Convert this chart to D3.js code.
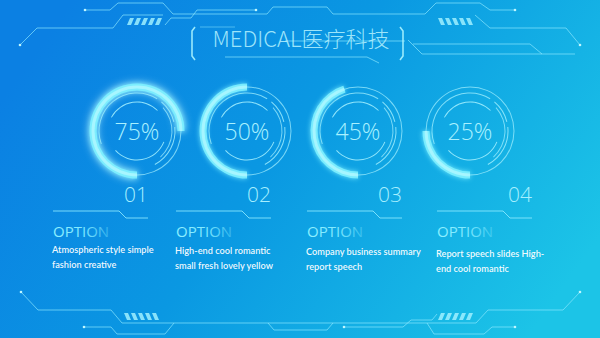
<!DOCTYPE html>
<html lang="en">
<head>
<meta charset="UTF-8">
<title>MEDICAL</title>
<script src="https://d3js.org/d3.v7.min.js"></script>
<style>
  html, body { margin: 0; padding: 0; background: #0c84e4; }
  svg { display: block; }
</style>
</head>
<body>
<div id="chart"></div>
<script>
  // data
  const categories = ["01", "02", "03", "04"];
  const percents = [75, 50, 45, 25];
  const headings = ["OPTION", "OPTION", "OPTION", "OPTION"];
  const descLines = [
    ["Atmospheric style simple", "fashion creative"],
    ["High-end cool romantic", "small fresh lovely yellow"],
    ["Company business summary", "report speech"],
    ["Report speech slides High-", "end cool romantic"]
  ];
  const title = "MEDICAL医疗科技";

  const width = 600, height = 338;

  const svg = d3.select("#chart").append("svg")
      .attr("width", width)
      .attr("height", height);

  const defs = svg.append("defs");

  const bg = defs.append("linearGradient").attr("id", "bg")
      .attr("x1", 0).attr("y1", 0.3).attr("x2", 1).attr("y2", 0.7);
  bg.append("stop").attr("offset", 0).attr("stop-color", "#0b80e3");
  bg.append("stop").attr("offset", 0.45).attr("stop-color", "#0a98e2");
  bg.append("stop").attr("offset", 1).attr("stop-color", "#1cc4e7");

  const optGrad = defs.append("linearGradient").attr("id", "optGrad")
      .attr("x1", 0).attr("x2", 1);
  optGrad.append("stop").attr("offset", 0).attr("stop-color", "#8ff0ff");
  optGrad.append("stop").attr("offset", 0.55).attr("stop-color", "#7ee8ff");
  optGrad.append("stop").attr("offset", 1).attr("stop-color", "#7ee8ff").attr("stop-opacity", 0.35);

  const glow = defs.append("filter").attr("id", "glow")
      .attr("x", "-50%").attr("y", "-50%").attr("width", "200%").attr("height", "200%");
  glow.append("feGaussianBlur").attr("stdDeviation", 2.5).attr("result", "b");
  const gm = glow.append("feMerge");
  gm.append("feMergeNode").attr("in", "b");
  gm.append("feMergeNode").attr("in", "SourceGraphic");

  const bigGlow = defs.append("filter").attr("id", "bigGlow")
      .attr("x", "-50%").attr("y", "-50%").attr("width", "200%").attr("height", "200%");
  bigGlow.append("feGaussianBlur").attr("stdDeviation", 5);

  svg.append("rect").attr("width", width).attr("height", height).attr("fill", "url(#bg)");

  // decorative circuit lines
  const lineCol = "#8ee9ff";
  const decor = [
    [[85,10],[110,10],[118,3],[163,3],[173,14],[267,14],[273,7],[327,7],[333,14],[425,14],[436,3],[480,3],[490,10],[515,10]],
    [[20,45],[37,28],[113,28],[123,15],[163,15]],
    [[165,25],[171,18],[191,18],[197,10],[256,10]],
    [[475,15],[490,28],[566,28],[580,45]],
    [[408,40],[422,54],[575,54]],
    [[413,44],[530,44],[542,54]],
    [[225,57],[367,57],[379,63]],
    [[285,41],[405,41]],
    [[21,292],[38,310],[111,310],[122,323],[476,323],[488,310],[563,310],[580,292]],
    [[84,327],[111,327],[117,334],[165,334],[174,323]],
    [[268,323],[274,330],[327,330],[333,323]],
    [[344,327],[403,327],[411,320],[432,320],[437,314]],
    [[427,323],[434,334],[484,334],[492,327],[515,327]]
  ];
  const lineGen = d3.line();
  const gDecor = svg.append("g");
  gDecor.selectAll("path").data(decor).join("path")
      .attr("d", lineGen)
      .attr("fill", "none")
      .attr("stroke", lineCol)
      .attr("stroke-opacity", 0.75)
      .attr("stroke-width", 0.9);
  // end dots
  const dots = [[85,10],[20,45],[256,10],[515,10],[580,45],[21,292],[84,327],[344,327],[515,327],[580,292]];
  gDecor.selectAll("circle").data(dots).join("circle")
      .attr("cx", d => d[0]).attr("cy", d => d[1]).attr("r", 1.3)
      .attr("fill", "#bff6ff");
  // highlight segments
  const highlights = [[[60,28],[100,28]],[[520,28],[560,28]],[[60,310],[100,310]],[[520,310],[560,310]]];
  gDecor.selectAll(".hl").data(highlights).join("path").attr("class", "hl")
      .attr("d", lineGen).attr("stroke", "#c8f8ff").attr("stroke-width", 1.4)
      .attr("stroke-opacity", 0.8).attr("filter", "url(#glow)");

  // hatch stripes
  function stripes(x0, y0, dir) {
    const g = gDecor.append("g");
    d3.range(5).forEach(i => {
      const x = x0 + i * 7;
      const pts = dir > 0
        ? [[x + 3, y0], [x + 7, y0], [x + 4, y0 + 7], [x, y0 + 7]]
        : [[x, y0], [x + 4, y0], [x + 7, y0 + 7], [x + 3, y0 + 7]];
      g.append("path").attr("d", lineGen(pts) + "Z").attr("fill", "#9ff0ff").attr("opacity", 0.85);
    });
  }
  stripes(127, 18, 1);
  stripes(438, 18, -1);
  stripes(124, 313, -1);
  stripes(438, 313, 1);

  // title frame brackets
  const bracket = [[[195,27],[192,31],[192,56],[195,60]], [[400,27],[403,31],[403,56],[400,60]]];
  gDecor.selectAll(".br").data(bracket).join("path").attr("class", "br")
      .attr("d", lineGen).attr("fill", "none").attr("stroke", "#a8f3ff").attr("stroke-width", 1.6)
      .attr("stroke-opacity", 0.9);
  svg.append("path").attr("d", lineGen([[200,27],[235,27]])).attr("stroke", lineCol).attr("stroke-opacity", 0.5);

  svg.append("text")
      .attr("x", 301).attr("y", 47)
      .attr("text-anchor", "middle")
      .attr("font-family", "'Noto Sans CJK SC', 'Open Sans', sans-serif")
      .attr("font-weight", 300)
      .attr("font-size", 22)
      .attr("fill", "#b8f4ff")
      .attr("fill-opacity", 0.85)
      .text(title);

  // layout scales
  const cx = d3.scaleOrdinal(categories, [137, 247, 358, 470]);
  const colLeft = d3.scaleOrdinal(categories, [53, 176, 307, 437]);
  const cy = 131;
  const angle = d3.scaleLinear().domain([0, 100]).range([Math.PI, 3 * Math.PI]);

  // thin decorative rings: [radius, startDeg, endDeg, opacity]
  const ringParts = [
    [44, 0, 360, 0.7],
    [38, 250, 392, 0.75],
    [38, 40, 76, 0.8],
    [38, 84, 152, 0.8],
    [35, 48, 138, 0.7],
    [29, 298, 405, 0.85],
    [29, 112, 228, 0.85]
  ];
  const thinArc = d3.arc()
      .innerRadius(d => d[0] - 0.5)
      .outerRadius(d => d[0] + 0.5)
      .startAngle(d => d[1] * Math.PI / 180)
      .endAngle(d => d[2] * Math.PI / 180);

  const thickArc = d3.arc()
      .innerRadius(40.5)
      .outerRadius(47.5)
      .startAngle(Math.PI)
      .endAngle(d => angle(d.v));

  const items = categories.map((c, i) => ({ c, v: percents[i], h: headings[i], lines: descLines[i], i }));

  const cg = svg.selectAll(".item").data(items).join("g")
      .attr("class", "item");

  const rings = cg.append("g").attr("transform", d => `translate(${cx(d.c)},${cy})`);

  rings.filter(d => d.i === 0).append("path")
      .attr("d", thickArc)
      .attr("fill", "#d8fbff")
      .attr("opacity", 0.75)
      .attr("filter", "url(#bigGlow)");

  rings.selectAll(".thin").data(ringParts).join("path").attr("class", "thin")
      .attr("d", thinArc)
      .attr("fill", "#a6f1ff")
      .attr("fill-opacity", p => p[3]);

  rings.append("path")
      .attr("d", thickArc)
      .attr("fill", "#7eefff")
      .attr("fill-opacity", 0.9)
      .attr("filter", "url(#glow)");

  rings.append("path")
      .attr("d", d3.arc().innerRadius(42.5).outerRadius(45.5).startAngle(Math.PI).endAngle(d => angle(d.v)))
      .attr("fill", "#c9fbff")
      .attr("fill-opacity", 0.55);

  rings.append("text")
      .attr("y", 8.5)
      .attr("text-anchor", "middle")
      .attr("font-family", "'Open Sans', sans-serif")
      .attr("font-weight", 300)
      .attr("font-size", 23)
      .attr("fill", "#a9f1ff")
      .text(d => d.v + "%");

  // number labels
  cg.append("text")
      .attr("x", d => colLeft(d.c) + 95)
      .attr("y", 202)
      .attr("text-anchor", "end")
      .attr("font-family", "'Open Sans', sans-serif")
      .attr("font-weight", 300)
      .attr("font-size", 21)
      .attr("fill", "#a6efff")
      .text(d => d.c);

  // underline with step
  cg.append("path")
      .attr("d", d => {
        const x = colLeft(d.c);
        return lineGen([[x, 211], [x + 66, 211], [x + 73, 218], [x + 95, 218]]);
      })
      .attr("fill", "none")
      .attr("stroke", "#8eeaff")
      .attr("stroke-width", 1)
      .attr("stroke-opacity", 0.85);

  cg.append("text")
      .attr("x", d => colLeft(d.c))
      .attr("y", 237)
      .attr("font-family", "'Open Sans', sans-serif")
      .attr("font-size", 15)
      .attr("fill", "url(#optGrad)")
      .text(d => d.h);

  cg.append("g").selectAll("text").data(d => d.lines.map((t, k) => ({ t, k, d }))).join("text")
      .attr("x", e => colLeft(e.d.c) - 1)
      .attr("y", e => 253 + e.d.i * 1.2 + e.k * 15)
      .attr("font-family", "Lato, 'Open Sans', sans-serif")
      .attr("font-weight", 600)
      .attr("font-size", 9.2)
      .attr("fill", "#ffffff")
      .attr("fill-opacity", 0.95)
      .text(e => e.t);
</script>
</body>
</html>
